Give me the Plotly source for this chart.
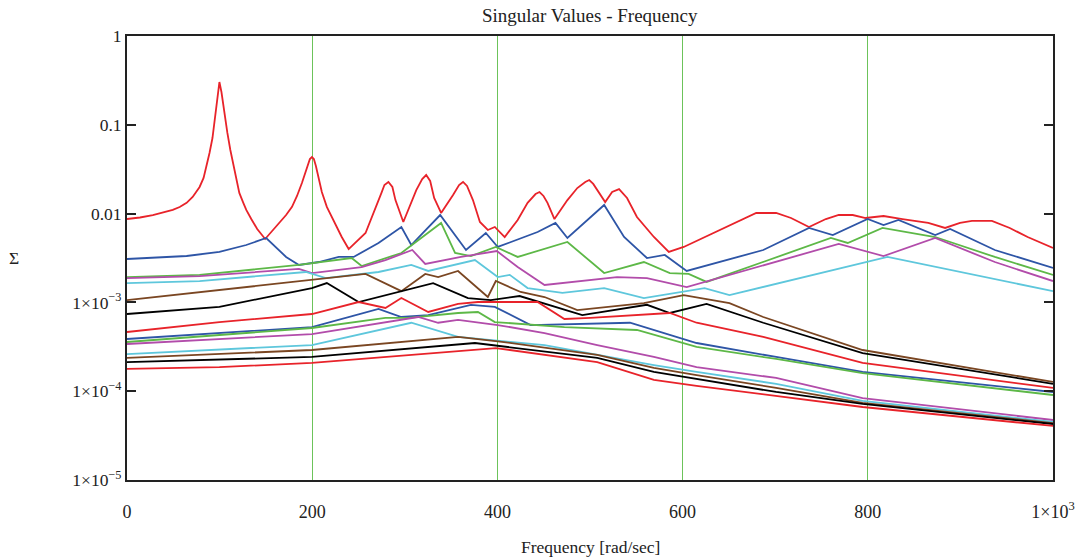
import plotly.graph_objects as go

# ---- data (frequency in rad/sec, singular values) ----
s1_x = [0, 14.0, 27.9, 40.8, 49.4, 56.9, 64.4, 70.9, 78.4, 82.7, 85.9, 89.1, 92.3, 94.5, 96.6, 98.8, 99.8,
        102.0, 104.1, 106.3, 108.4, 111.6, 114.9, 118.1, 121.3, 125.6, 128.8, 134.2, 140.6, 149.2,
        156.7, 164.3, 171.8, 178.2, 183.6, 188.9, 192.2, 195.4, 197.5, 199.7, 201.8, 204.0, 207.2, 210.4,
        215.8, 221.2, 226.5, 231.9, 239.4,
        257.6, 274.8, 278.0, 282.3, 286.6, 289.9, 298.4, 312.4, 318.8, 323.1, 327.4, 331.7, 339.2, 352.1,
        358.6, 362.9, 367.2, 373.6, 381.1, 389.7, 397.2, 407.9, 421.9, 432.6, 441.2, 445.5, 449.8, 454.1,
        461.6, 475.6, 486.3, 494.9, 499.2, 503.5, 507.8, 516.4, 523.9, 531.4, 540.0, 550.7, 569.0, 585.1,
        601.2, 636.6, 679.5, 701.0, 717.1, 736.5, 754.7, 768.6, 783.7, 797.6, 817.0, 837.4, 865.3, 883.5,
        899.6, 912.5, 934.0, 953.3, 972.6, 1000]
s1_y = [0.00869, 0.00904, 0.00964, 0.01042, 0.0110, 0.01187, 0.0132, 0.0154, 0.01994, 0.0252, 0.0344, 0.0481,
        0.0710, 0.1075, 0.1762, 0.2597, 0.303,
        0.234, 0.1589, 0.1104, 0.0809, 0.0520, 0.0344, 0.0239, 0.0171, 0.0132, 0.0110, 0.00869, 0.00671,
        0.00518,
        0.00637, 0.00784, 0.00964, 0.0119, 0.0158, 0.0221, 0.0279, 0.0362, 0.0412, 0.0434, 0.0412, 0.0344,
        0.0252, 0.0175, 0.0119, 0.00916, 0.00689, 0.00545, 0.00399,
        0.00605, 0.0171, 0.0210, 0.0227, 0.01994, 0.0142, 0.00804, 0.0184, 0.0245, 0.0272, 0.0233, 0.0150,
        0.01016, 0.0162, 0.0210, 0.0227, 0.0205, 0.0142, 0.00804, 0.00654, 0.00707, 0.00545, 0.00848, 0.0132,
        0.0166, 0.0175, 0.0158, 0.0132, 0.00869, 0.0142, 0.0194, 0.0227, 0.0239, 0.0216, 0.0184, 0.0135,
        0.0175, 0.0189, 0.0150, 0.00916, 0.00545, 0.00370, 0.00421, 0.00621, 0.01016, 0.01016, 0.00892,
        0.00707, 0.00869, 0.00964, 0.00964, 0.00892, 0.00940, 0.00869, 0.00784, 0.00689, 0.00784, 0.00826,
        0.00826, 0.00689, 0.00545, 0.00410]

s2_x = [0, 27.9, 64.4, 99.8, 128.8, 150.3, 171.8, 185.7, 207.2, 228.7, 244.8, 271.6, 296.3, 307.0, 338.2,
        366.1, 387.5, 400.4, 443.4, 462.7, 475.6, 515.3, 536.8, 561.5, 580.8, 604.4, 687.1, 736.5, 762.2,
        799.8, 817.0, 833.1, 872.8, 888.9, 937.2, 1000]
s2_y = [0.00308, 0.00316, 0.00333, 0.00370, 0.00443, 0.00531, 0.00325, 0.00264, 0.00285, 0.00325, 0.00325,
        0.00467, 0.00707, 0.00443, 0.00964, 0.00389, 0.00605, 0.00421, 0.00621, 0.00784, 0.00531, 0.0125,
        0.00545, 0.00316, 0.00342, 0.00226, 0.00389, 0.00689, 0.00574, 0.00869, 0.00744, 0.00848, 0.00574,
        0.00671, 0.00389, 0.00244]

s3_x = [0, 78.4, 185.7, 242.6, 253.4, 296.3, 339.2, 354.3, 371.4, 398.3, 421.9, 475.6, 515.3, 558.2, 586.2,
        606.5, 625.9, 760.1, 778.3, 815.9, 872.8, 937.2, 1000]
s3_y = [0.00193, 0.00204, 0.00264, 0.00316, 0.00257, 0.00360, 0.00784, 0.00360, 0.00333, 0.00421, 0.00325,
        0.00479, 0.00214, 0.00285, 0.00214, 0.00209, 0.00170, 0.00531, 0.00467, 0.00689, 0.00545, 0.00325,
        0.00204]

s4_x = [0, 78.4, 185.7, 199.7, 253.4, 279.1, 308.1, 322.1, 360.7, 399.4, 421.9, 450.9, 529.2, 561.5, 604.4,
        768.6, 817.0, 872.8, 937.2, 1000]
s4_y = [0.00188, 0.00198, 0.00238, 0.00214, 0.00250, 0.00300, 0.00389, 0.00271, 0.00325, 0.00379, 0.00250,
        0.00157, 0.00193, 0.00188, 0.00149, 0.00455, 0.00333, 0.00531, 0.00285, 0.00174]

s5_x = [0, 78.4, 193.2, 214.7, 271.6, 307.0, 325.3, 375.7, 400.4, 413.3, 432.6, 470.2, 515.3, 558.2, 623.7,
        650.6, 821.3, 1000]
s5_y = [0.00165, 0.00174, 0.00220, 0.00188, 0.00220, 0.00264, 0.00226, 0.00300, 0.00193, 0.00204, 0.00145,
        0.00128, 0.00145, 0.00112, 0.00145, 0.00121, 0.00325, 0.00134]

s6_x = [0, 99.8, 199.7, 257.6, 296.3, 322.1, 336.0, 357.5, 389.7, 398.3, 425.1, 450.9, 486.3, 558.2, 601.2,
        650.6, 687.1, 794.4, 1000]
s6_y = [0.00106, 0.00138, 0.00179, 0.00209, 0.00134, 0.00209, 0.00193, 0.00226, 0.00115, 0.00174, 0.00131,
        0.00115, 0.00082, 0.00098, 0.00121, 0.00098, 0.000685, 0.000291, 0.000127]

s7_x = [0, 99.8, 199.7, 215.8, 250.1, 330.6, 368.2, 392.9, 424.0, 491.7, 561.5, 586.2, 625.9, 687.1, 794.4, 1000]
s7_y = [0.00074, 0.00089, 0.00145, 0.00165, 0.00101, 0.00165, 0.00112, 0.00106, 0.00118, 0.00072, 0.00094,
        0.00076, 0.00096, 0.00059, 0.000269, 0.000121]

s8_x = [0, 99.8, 199.7, 250.1, 279.1, 296.3, 325.3, 357.5, 379.0, 443.4, 472.4, 500.3, 586.2, 615.1, 687.1,
        794.4, 1000]
s8_y = [0.000464, 0.000601, 0.00074, 0.00101, 0.000865, 0.00112, 0.00078, 0.00096, 0.00101, 0.00101, 0.00065,
        0.000668, 0.00076, 0.00059, 0.000408, 0.000208, 0.000109]

s9_x = [0, 99.8, 199.7, 271.6, 296.3, 325.3, 357.5, 371.4, 397.2, 435.9, 543.2, 615.1, 701.0, 794.4, 1000]
s9_y = [0.000387, 0.000452, 0.000528, 0.000843, 0.000685, 0.00072, 0.000865, 0.00094, 0.00089, 0.000556,
        0.00059, 0.000349, 0.000243, 0.000165, 0.000098]

s10_x = [0, 199.7, 279.1, 303.8, 357.5, 379.0, 397.2, 472.4, 550.7, 615.1, 701.0, 794.4, 1000]
s10_y = [0.000358, 0.000515, 0.000668, 0.000668, 0.00076, 0.00078, 0.000601, 0.000528, 0.000489, 0.000315,
         0.000231, 0.00016, 0.0000906]

s11_x = [0, 199.7, 314.5, 336.0, 357.5, 400.4, 450.9, 507.8, 569.0, 615.1, 701.0, 794.4, 1000]
s11_y = [0.00034, 0.00044, 0.000685, 0.00059, 0.000634, 0.000556, 0.000452, 0.000331, 0.000243, 0.000187,
         0.000141, 0.0000838, 0.0000474]

s12_x = [0, 199.7, 307.0, 357.5, 450.9, 569.0, 615.1, 701.0, 794.4, 1000]
s12_y = [0.000262, 0.000331, 0.00059, 0.000408, 0.000331, 0.000197, 0.000165, 0.000121, 0.0000776, 0.000045]

s13_x = [0, 199.7, 357.5, 400.4, 507.8, 569.0, 615.1, 701.0, 794.4, 1000]
s13_y = [0.000237, 0.000291, 0.000408, 0.000365, 0.000256, 0.000183, 0.000152, 0.000109, 0.0000737, 0.0000438]

s14_x = [0, 199.7, 375.7, 507.8, 569.0, 615.1, 701.0, 794.4, 1000]
s14_y = [0.000213, 0.000243, 0.000349, 0.000237, 0.000165, 0.000137, 0.000098, 0.0000718, 0.0000427]

s15_x = [0, 99.8, 199.7, 398.3, 507.8, 569.0, 615.1, 701.0, 794.4, 1000]
s15_y = [0.000178, 0.000187, 0.000208, 0.000306, 0.000213, 0.000134, 0.000115, 0.0000883, 0.0000664, 0.0000406]

x_ticks = [0, 200, 400, 600, 800, 1000]
x_ticklabels = ["0", "200", "400", "600", "800", "1×10<sup>3</sup>"]
y_ticks = [1e-5, 1e-4, 1e-3, 1e-2, 1e-1, 1]
y_ticklabels = ["1×10<sup>−5</sup>", "1×10<sup>−4</sup>", "1×10<sup>−3</sup>", "0.01", "0.1", "1"]

series = [(s1_x, s1_y), (s2_x, s2_y), (s3_x, s3_y), (s4_x, s4_y), (s5_x, s5_y), (s6_x, s6_y), (s7_x, s7_y),
          (s8_x, s8_y), (s9_x, s9_y), (s10_x, s10_y), (s11_x, s11_y), (s12_x, s12_y), (s13_x, s13_y),
          (s14_x, s14_y), (s15_x, s15_y)]
palette = ["#E8232A", "#2E55A6", "#5DB847", "#B24CAA", "#5EC7DC", "#7A4622", "#000000"]

FONT = "Liberation Serif, Times New Roman, serif"

fig = go.Figure()
for i, (xs, ys) in enumerate(series):
    assert len(xs) == len(ys), (i, len(xs), len(ys))
    fig.add_trace(go.Scatter(x=xs, y=ys, mode="lines",
                             line=dict(color=palette[i % 7], width=1.8),
                             showlegend=False, hoverinfo="skip"))

fig.update_layout(
    width=1087, height=559,
    margin=dict(l=127, r=29, t=36, b=79),
    paper_bgcolor="white", plot_bgcolor="white",
    font=dict(family=FONT, size=17, color="#222"),
    xaxis=dict(range=[0, 1000], tickvals=x_ticks, ticktext=x_ticklabels,
               showgrid=True, gridcolor="#6CC35A", gridwidth=1,
               showline=True, linecolor="#222", linewidth=2, mirror=True,
               ticks="", zeroline=False, ticklabelstandoff=14,
               tickfont=dict(family=FONT, size=18, color="#222")),
    yaxis=dict(type="log", range=[-5, 0], tickvals=y_ticks, ticktext=y_ticklabels,
               showgrid=False, showline=True, linecolor="#222", linewidth=2, mirror="ticks",
               ticks="inside", ticklen=9, tickwidth=2, tickcolor="#222", zeroline=False,
               tickfont=dict(family=FONT, size=17.5, color="#222")),
    annotations=[
        dict(text="Singular Values - Frequency", xref="paper", yref="paper", x=0.5, y=1,
             xanchor="center", yanchor="middle", yshift=21, showarrow=False,
             font=dict(family=FONT, size=19, color="#222")),
        dict(text="Frequency [rad/sec]", xref="paper", yref="paper", x=0.5, y=0,
             xanchor="center", yanchor="middle", yshift=-67, showarrow=False,
             font=dict(family=FONT, size=17.5, color="#222")),
        dict(text="Σ", xref="paper", yref="paper", x=0, y=0.5,
             xanchor="center", yanchor="middle", xshift=-113, showarrow=False,
             font=dict(family=FONT, size=17.5, color="#222")),
    ],
)

fig.write_html("out.html")
